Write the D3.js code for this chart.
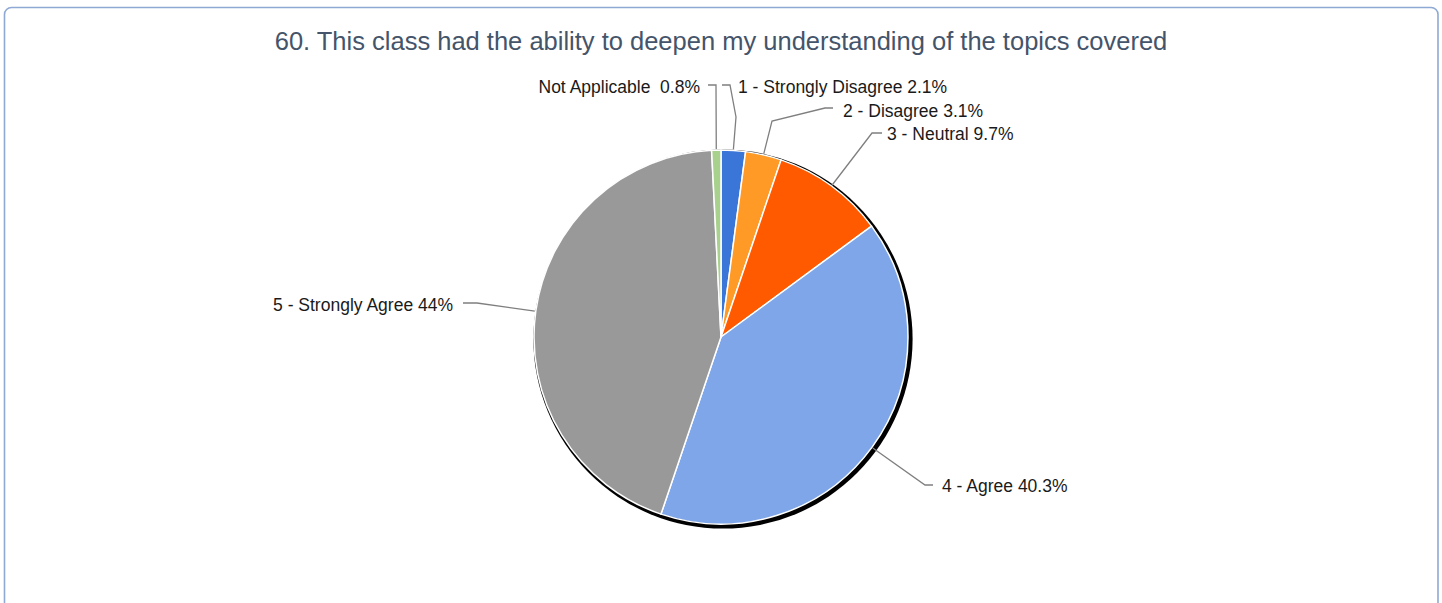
<!DOCTYPE html>
<html>
<head>
<meta charset="utf-8">
<script src="https://cdn.jsdelivr.net/npm/d3@7"></script>
<style>
  html, body { margin: 0; padding: 0; background: #ffffff; }
  svg { display: block; }
  text { white-space: pre; }
</style>
</head>
<body>
<svg id="chart" width="1442" height="603"></svg>
<script>
// ---- data ----
const title = "60. This class had the ability to deepen my understanding of the topics covered";
const categories = ["1 - Strongly Disagree", "2 - Disagree", "3 - Neutral", "4 - Agree", "5 - Strongly Agree", "Not Applicable "];
const values = [2.1, 3.1, 9.7, 40.3, 44, 0.8];
const valueLabels = ["2.1%", "3.1%", "9.7%", "40.3%", "44%", "0.8%"];
const colors = ["#3a76d8", "#ff9a26", "#ff5a00", "#7ea6e8", "#999999", "#a9d18e"];

// ---- layout (label placement, not data) ----
const labelLayout = [
  { tx: 738, ty: 93, anchor: "start", bends: [[736, 117], [730, 85], [722, 85]] },
  { tx: 843, ty: 117, anchor: "start", bends: [[772, 121], [825, 108], [833, 108]] },
  { tx: 887, ty: 140, anchor: "start", bends: [[872, 133], [882, 133]] },
  { tx: 942, ty: 492, anchor: "start", bends: [[925, 485], [933, 485]] },
  { tx: 453, ty: 311, anchor: "end", bends: [[477, 303], [463, 303]] },
  { tx: 700, ty: 93, anchor: "end", bends: [[716, 85], [708, 85]] }
];

const svg = d3.select("#chart");
const cx = 721, cy = 337, R = 187;

// frame
svg.append("rect")
  .attr("x", 4.5).attr("y", 7.5)
  .attr("width", 1433.5).attr("height", 700)
  .attr("rx", 7).attr("ry", 7)
  .attr("fill", "#ffffff")
  .attr("stroke", "#8eaad4")
  .attr("stroke-width", 1.6);

// title
svg.append("text")
  .attr("x", cx).attr("y", 50)
  .attr("text-anchor", "middle")
  .attr("font-family", "'Liberation Sans', Arial, sans-serif")
  .attr("font-size", "25.5px")
  .attr("fill", "#44546a")
  .text(title);

const data = categories.map((c, i) => ({ cat: c, value: values[i], label: valueLabels[i], color: colors[i], layout: labelLayout[i] }));

const pie = d3.pie().value(d => d.value).sort(null);
const arcs = pie(data);
const arc = d3.arc().innerRadius(0).outerRadius(R);

const g = svg.append("g").attr("transform", `translate(${cx},${cy})`);

// shadow
g.append("circle")
  .attr("cx", 2).attr("cy", 2).attr("r", R + 2.6)
  .attr("fill", "#000000");

g.selectAll("path.slice")
  .data(arcs)
  .enter().append("path")
  .attr("class", "slice")
  .attr("d", arc)
  .attr("fill", d => d.data.color)
  .attr("stroke", "#ffffff")
  .attr("stroke-width", 1.5)
  .attr("stroke-linejoin", "round");

// leader lines
const line = d3.line();
arcs.forEach(a => {
  const mid = (a.startAngle + a.endAngle) / 2;
  const p0 = [cx + Math.sin(mid) * (R + 1), cy - Math.cos(mid) * (R + 1)];
  const pts = [p0].concat(a.data.layout.bends);
  svg.append("path")
    .attr("d", line(pts))
    .attr("fill", "none")
    .attr("stroke", "#7f7f7f")
    .attr("stroke-width", 1.3);
  svg.append("text")
    .attr("x", a.data.layout.tx).attr("y", a.data.layout.ty)
    .attr("text-anchor", a.data.layout.anchor)
    .attr("font-family", "'Liberation Sans', Arial, sans-serif")
    .attr("font-size", "17.5px")
    .attr("fill", "#1a1a1a")
    .text(a.data.cat + " " + a.data.label);
});
</script>
</body>
</html>
